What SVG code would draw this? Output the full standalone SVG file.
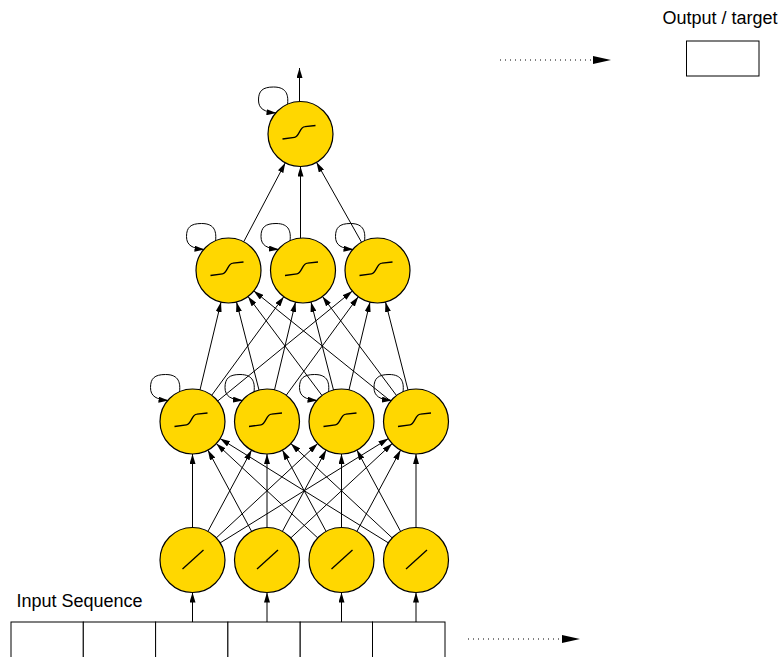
<svg xmlns="http://www.w3.org/2000/svg" width="780" height="657" viewBox="0 0 780 657">
  <style>
    .unit { fill: #FFD700; stroke: #000; stroke-width: 1.2; }
    .glyph { fill: none; stroke: #000; stroke-width: 1.3; }
    .edge { fill: none; stroke: #000; stroke-width: 1; marker-end: url(#arrow); }
    .loop { fill: none; stroke: #000; stroke-width: 1; marker-end: url(#arrow); }
    .dots { fill: none; stroke: #000; stroke-width: 1; stroke-dasharray: 1 4; }
    .cell { fill: #fff; stroke: #000; stroke-width: 1; }
    .label { font-family: "Liberation Sans", Arial, sans-serif; fill: #000; font-size: 18px; }
  </style>
  <defs>
    <marker id="arrow" viewBox="0 0 10 6" refX="10" refY="3" markerWidth="10" markerHeight="6" markerUnits="userSpaceOnUse" orient="auto">
      <path d="M0,0 L10,3 L0,6 z" fill="#000"/>
    </marker>
    <!-- self-recurrent loop, relative to a unit centre -->
    <path id="selfloop" d="M-13,-29 C-12,-38 -13,-47 -27,-47 C-38,-47 -42,-43 -42,-34 C-42,-25 -36,-22 -24,-21"/>
    <path id="sigmoid" d="M-18,5 L-6,3.3 C-1,2.5 -1,-7 4.5,-7.3 L15,-8.5"/>
    <path id="linear" d="M-10,9 L11,-10"/>
  </defs>

  <!-- labels -->
  <text class="label" x="720" y="24" text-anchor="middle">Output / target</text>
  <text class="label" x="16.5" y="607">Input Sequence</text>

  <!-- output / target box -->
  <g id="target">
    <rect class="cell" x="686.5" y="41" width="72.5" height="35"/>
  </g>

  <!-- input sequence cells -->
  <g id="sequence">
    <rect class="cell" x="11" y="622" width="72.3" height="50"/>
    <rect class="cell" x="83.3" y="622" width="72.3" height="50"/>
    <rect class="cell" x="155.6" y="622" width="72.3" height="50"/>
    <rect class="cell" x="227.9" y="622" width="72.3" height="50"/>
    <rect class="cell" x="300.2" y="622" width="72.3" height="50"/>
    <rect class="cell" x="372.5" y="622" width="72.5" height="50"/>
  </g>

  <g id="connectors">
    <!-- time direction -->
    <line class="dots" x1="500" y1="60" x2="594" y2="60"/>
    <path d="M593,56 L611,60 L593,64 z" fill="#000"/>
    <line class="dots" x1="468" y1="639" x2="563" y2="639"/>
    <path d="M562,635 L580,639 L562,643 z" fill="#000"/>

    <!-- sequence to input units -->
    <line class="edge" x1="192.5" y1="622" x2="192.5" y2="592.5"/>
    <line class="edge" x1="267" y1="622" x2="267" y2="592.5"/>
    <line class="edge" x1="341.5" y1="622" x2="341.5" y2="592.5"/>
    <line class="edge" x1="416" y1="622" x2="416" y2="592.5"/>

    <!-- input layer to first recurrent layer -->
    <line class="edge" x1="192.5" y1="527.5" x2="192.5" y2="454"/>
    <line class="edge" x1="207.9" y1="531.4" x2="251.6" y2="450.1"/>
    <line class="edge" x1="216.3" y1="537.9" x2="317.7" y2="443.6"/>
    <line class="edge" x1="220.1" y1="542.9" x2="388.4" y2="438.6"/>
    <line class="edge" x1="251.6" y1="531.4" x2="207.9" y2="450.1"/>
    <line class="edge" x1="267" y1="527.5" x2="267" y2="454"/>
    <line class="edge" x1="282.4" y1="531.4" x2="326.1" y2="450.1"/>
    <line class="edge" x1="290.8" y1="537.9" x2="392.2" y2="443.6"/>
    <line class="edge" x1="317.7" y1="537.9" x2="216.3" y2="443.6"/>
    <line class="edge" x1="326.1" y1="531.4" x2="282.4" y2="450.1"/>
    <line class="edge" x1="341.5" y1="527.5" x2="341.5" y2="454"/>
    <line class="edge" x1="356.9" y1="531.4" x2="400.6" y2="450.1"/>
    <line class="edge" x1="388.4" y1="542.9" x2="220.1" y2="438.6"/>
    <line class="edge" x1="392.2" y1="537.9" x2="290.8" y2="443.6"/>
    <line class="edge" x1="400.6" y1="531.4" x2="356.9" y2="450.1"/>
    <line class="edge" x1="416" y1="527.5" x2="416" y2="454"/>

    <!-- first recurrent layer to second recurrent layer -->
    <line class="edge" x1="200.0" y1="389.9" x2="221.0" y2="302.1"/>
    <line class="edge" x1="259.0" y1="390.0" x2="236.5" y2="302.0"/>
    <line class="edge" x1="322.0" y1="395.5" x2="248.0" y2="296.5"/>
    <line class="edge" x1="390.7" y1="401.1" x2="253.8" y2="290.9"/>
    <line class="edge" x1="211.7" y1="395.3" x2="283.8" y2="296.7"/>
    <line class="edge" x1="274.5" y1="389.9" x2="295.5" y2="302.1"/>
    <line class="edge" x1="333.5" y1="390.0" x2="311.0" y2="302.0"/>
    <line class="edge" x1="396.5" y1="395.5" x2="322.5" y2="296.5"/>
    <line class="edge" x1="217.7" y1="401.0" x2="352.3" y2="291.1"/>
    <line class="edge" x1="286.2" y1="395.3" x2="358.3" y2="296.7"/>
    <line class="edge" x1="349.0" y1="389.9" x2="370.0" y2="302.1"/>
    <line class="edge" x1="408.0" y1="390.0" x2="385.5" y2="302.0"/>

    <!-- second recurrent layer to output unit -->
    <line class="edge" x1="243.7" y1="241.8" x2="285.3" y2="162.8"/>
    <line class="edge" x1="300.5" y1="238.1" x2="300.5" y2="166.5"/>
    <line class="edge" x1="361.5" y1="242.2" x2="316.5" y2="162.3"/>

    <!-- output unit upward -->
    <line class="edge" x1="299.5" y1="101.5" x2="299.5" y2="68"/>

    <!-- self-recurrent loops -->
    <use class="loop" href="#selfloop" x="300.5" y="134"/>
    <use class="loop" href="#selfloop" x="228.5" y="270.5"/>
    <use class="loop" href="#selfloop" x="303" y="270.5"/>
    <use class="loop" href="#selfloop" x="377.5" y="270.5"/>
    <use class="loop" href="#selfloop" x="192.5" y="421.5"/>
    <use class="loop" href="#selfloop" x="267" y="421.5"/>
    <use class="loop" href="#selfloop" x="341.5" y="421.5"/>
    <use class="loop" href="#selfloop" x="416" y="421.5"/>
  </g>

  <!-- output unit -->
  <g id="out">
    <circle class="unit" cx="300.5" cy="134" r="32.5"/>
    <use class="glyph" href="#sigmoid" x="300.5" y="134"/>
  </g>

  <!-- second recurrent layer -->
  <g id="h2a">
    <circle class="unit" cx="228.5" cy="270.5" r="32.5"/>
    <use class="glyph" href="#sigmoid" x="228.5" y="270.5"/>
  </g>
  <g id="h2b">
    <circle class="unit" cx="303" cy="270.5" r="32.5"/>
    <use class="glyph" href="#sigmoid" x="303" y="270.5"/>
  </g>
  <g id="h2c">
    <circle class="unit" cx="377.5" cy="270.5" r="32.5"/>
    <use class="glyph" href="#sigmoid" x="377.5" y="270.5"/>
  </g>

  <!-- first recurrent layer -->
  <g id="h1a">
    <circle class="unit" cx="192.5" cy="421.5" r="32.5"/>
    <use class="glyph" href="#sigmoid" x="192.5" y="421.5"/>
  </g>
  <g id="h1b">
    <circle class="unit" cx="267" cy="421.5" r="32.5"/>
    <use class="glyph" href="#sigmoid" x="267" y="421.5"/>
  </g>
  <g id="h1c">
    <circle class="unit" cx="341.5" cy="421.5" r="32.5"/>
    <use class="glyph" href="#sigmoid" x="341.5" y="421.5"/>
  </g>
  <g id="h1d">
    <circle class="unit" cx="416" cy="421.5" r="32.5"/>
    <use class="glyph" href="#sigmoid" x="416" y="421.5"/>
  </g>

  <!-- input layer -->
  <g id="in1">
    <circle class="unit" cx="192.5" cy="560" r="32.5"/>
    <use class="glyph" href="#linear" x="192.5" y="560"/>
  </g>
  <g id="in2">
    <circle class="unit" cx="267" cy="560" r="32.5"/>
    <use class="glyph" href="#linear" x="267" y="560"/>
  </g>
  <g id="in3">
    <circle class="unit" cx="341.5" cy="560" r="32.5"/>
    <use class="glyph" href="#linear" x="341.5" y="560"/>
  </g>
  <g id="in4">
    <circle class="unit" cx="416" cy="560" r="32.5"/>
    <use class="glyph" href="#linear" x="416" y="560"/>
  </g>
</svg>
